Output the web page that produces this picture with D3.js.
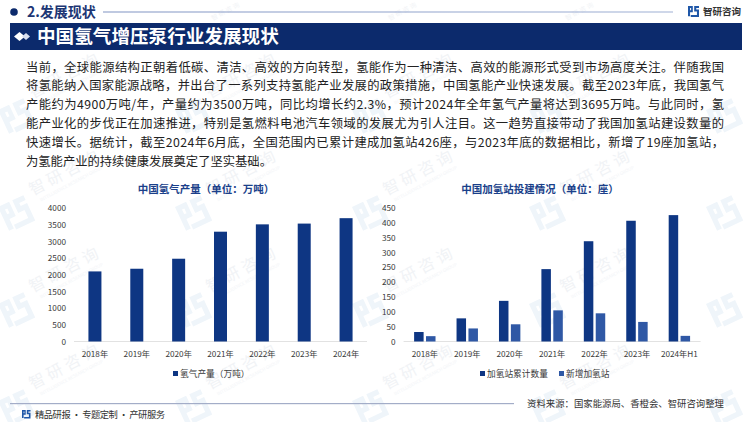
<!DOCTYPE html>
<html>
<head>
<meta charset="utf-8">
<script src="https://cdn.jsdelivr.net/npm/d3@7/dist/d3.min.js"></script>
<style>
	html, body { margin: 0; padding: 0; background: #fff; }
	svg { display: block; }
	text { font-family: "Noto Sans CJK SC", "Noto Sans", sans-serif; }
	.tick text { fill: #3a3a3a; font-size: 8.2px; }
</style>
</head>
<body>
<svg id="chart" width="750" height="422"></svg>
<script>
const pageLines = [
	'当前，全球能源结构正朝着低碳、清洁、高效的方向转型，氢能作为一种清洁、高效的能源形式受到市场高度关注。伴随我国',
	'将氢能纳入国家能源战略，并出台了一系列支持氢能产业发展的政策措施，中国氢能产业快速发展。截至2023年底，我国氢气',
	'产能约为4900万吨/年，产量约为3500万吨，同比均增长约2.3%，预计2024年全年氢气产量将达到3695万吨。与此同时，氢',
	'能产业化的步伐正在加速推进，特别是氢燃料电池汽车领域的发展尤为引人注目。这一趋势直接带动了我国加氢站建设数量的',
	'快速增长。据统计，截至2024年6月底，全国范围内已累计建成加氢站426座，与2023年底的数据相比，新增了19座加氢站，',
	'为氢能产业的持续健康发展奠定了坚实基础。'
]

const outputYears = ['2018年', '2019年', '2020年', '2021年', '2022年', '2023年', '2024年']
const outputValues = [2100, 2180, 2480, 3290, 3510, 3533, 3695]
const outputTicks = [0, 500, 1000, 1500, 2000, 2500, 3000, 3500, 4000]

const stationYears = ['2018年', '2019年', '2020年', '2021年', '2022年', '2023年', '2024年H1']
const stationTotal = [32, 78, 137, 244, 338, 407, 426]
const stationNew = [18, 44, 58, 105, 95, 66, 19]
const stationTicks = [0, 50, 100, 150, 200, 250, 300, 350, 400, 450]

const DARK = '#0e3683'
const MID = '#2f58a5'
const NAVY = '#0c2a6c'

const svg = d3.select('#chart')

// stylised brand mark, drawn in a 16x16 box
function logo (parent, x, y, size, color, angle) {
	const g = parent.append('g')
		.attr('transform', `translate(${x}, ${y}) rotate(${angle || 0}) scale(${size / 16})`)
		.attr('fill', color)
	g.append('path').attr('d', 'M0 0H7V9H3V15H0ZM3 3V6H4.5V3Z')
	g.append('path').attr('d', 'M9 0H16V3H12V5H16V16H4V13H13V8H9Z')
}

function watermarkText (g, x, y, size, withSub) {
	const t = g.append('g').attr('transform', `translate(${x}, ${y}) rotate(-28)`)
	t.append('text')
		.attr('text-anchor', 'middle')
		.attr('font-size', size)
		.attr('letter-spacing', size / 4)
		.attr('fill', '#f1f3f6')
		.text('智研咨询')
	if (!withSub) return
	t.append('text')
		.attr('text-anchor', 'middle')
		.attr('y', 9)
		.attr('font-size', 4.5)
		.attr('fill', '#f3f5f8')
		.text('INTELLIGENCE RESEARCH GROUP')
}

function watermarks () {
	const g = svg.append('g')
	d3.range(0, 4).forEach(row => {
		d3.range(0, 5).forEach(col => {
			const x = 68 + col * 177
			const y = 80 + row * 97
			logo(g, x - 70, y + 30, 28, '#eff5fa', -25)
			if (col < 4) watermarkText(g, x, y, 16, true)
		})
	})
	// the strip above the banner only has room for a smaller one
	d3.range(1, 4).forEach(col => watermarkText(g, 50 + col * 177, 13, 6.5, false))
}

function pageFrame () {
	const grad = svg.append('defs').append('linearGradient').attr('id', 'rule')
	grad.append('stop').attr('offset', '0%').attr('stop-color', '#7f93c2')
	grad.append('stop').attr('offset', '100%').attr('stop-color', '#9fb0d4')

	svg.append('circle').attr('cx', 14).attr('cy', 12).attr('r', 3.8).attr('fill', NAVY)
	svg.append('text')
		.attr('x', 27).attr('y', 17)
		.attr('font-size', 14).attr('font-weight', 700).attr('fill', '#1c3674')
		.text('2.发展现状')
	svg.append('rect').attr('x', 103).attr('y', 11.5).attr('width', 570).attr('height', 1).attr('fill', 'url(#rule)')

	logo(svg, 688, 6, 11, '#1f57a8')
	svg.append('text')
		.attr('x', 703).attr('y', 15)
		.attr('font-size', 9.5).attr('font-weight', 700).attr('fill', '#333')
		.text('智研咨询')

	svg.append('rect').attr('x', 10).attr('y', 23).attr('width', 732).attr('height', 27).attr('fill', NAVY)
	svg.append('path').attr('d', 'M14 36.5L19.5 32L25 36.5L19.5 41Z').attr('fill', '#fff')
	svg.append('path').attr('d', 'M22 36.5L26 33L30 36.5L26 40Z').attr('fill', '#d9dfee')
	svg.append('text')
		.attr('x', 37).attr('y', 43)
		.attr('font-size', 18.6).attr('font-weight', 700).attr('fill', '#fff')
		.text('中国氢气增压泵行业发展现状')

	svg.append('g').selectAll('text')
		.data(pageLines)
		.join('text')
		.attr('x', 26)
		.attr('y', (d, i) => 71.5 + i * 18.8)
		.attr('font-size', 12.3)
		.attr('fill', '#222')
		.attr('textLength', (d, i) => i < 5 ? 698 : null)
		.attr('lengthAdjust', 'spacing')
		.text(d => d)

	svg.append('rect').attr('x', 10).attr('y', 403).attr('width', 504).attr('height', 1.2).attr('fill', '#a3adc8')
	logo(svg, 22, 410, 8.5, '#1f57a8')
	svg.append('text')
		.attr('x', 35).attr('y', 418)
		.attr('font-size', 9.3).attr('fill', '#333')
		.attr('textLength', 130)
		.text('精品研报 · 专题定制 · 产研服务')
	svg.append('text')
		.attr('x', 527).attr('y', 407)
		.attr('font-size', 9.4).attr('fill', '#333')
		.text('资料来源：国家能源局、香橙会、智研咨询整理')
}

function axes (x, y, ticks, left, right) {
	svg.append('g')
		.attr('transform', `translate(${left - 8}, 0)`)
		.call(d3.axisLeft(y).tickValues(ticks).tickSize(0).tickPadding(0).tickFormat(d3.format('d')))
		.call(g => g.select('.domain').remove())
	svg.append('g')
		.attr('transform', `translate(0, ${y(0)})`)
		.call(d3.axisBottom(x).tickSize(0).tickPadding(10))
		.call(g => g.select('.domain').remove())
	svg.append('line')
		.attr('x1', left).attr('x2', right)
		.attr('y1', y(0)).attr('y2', y(0))
		.attr('stroke', '#e2e2e2')
}

function chartTitle (label, cx) {
	svg.append('text')
		.attr('x', cx).attr('y', 193)
		.attr('text-anchor', 'middle')
		.attr('font-size', 10.5).attr('font-weight', 700).attr('fill', '#1a3f8a')
		.text(label)
}

function legendItem (label, color, x) {
	svg.append('rect').attr('x', x).attr('y', 371).attr('width', 5).attr('height', 5).attr('fill', color)
	svg.append('text')
		.attr('x', x + 7).attr('y', 377)
		.attr('font-size', 8.7).attr('fill', '#3a3a3a')
		.text(label)
}

function outputChart () {
	const x = d3.scaleBand().domain(outputYears).range([74, 367])
	const y = d3.scaleLinear().domain([0, 4000]).range([341.5, 208])
	const w = 13

	chartTitle('中国氢气产量（单位：万吨）', 206)
	axes(x, y, outputTicks, 74, 367)
	svg.append('g').selectAll('rect')
		.data(outputValues)
		.join('rect')
		.attr('x', (d, i) => x(outputYears[i]) + x.bandwidth() / 2 - w / 2)
		.attr('y', d => y(d))
		.attr('width', w)
		.attr('height', d => y(0) - y(d))
		.attr('fill', DARK)
	legendItem('氢气产量（万吨）', DARK, 173)
}

function stationChart () {
	const x = d3.scaleBand().domain(stationYears).range([403.6, 700.6])
	const y = d3.scaleLinear().domain([0, 450]).range([341.5, 208])
	const w = 9.5
	const gap = 2.4

	chartTitle('中国加氢站投建情况（单位：座）', 540)
	axes(x, y, stationTicks, 403.6, 700.6)
	const bars = (values, color, dx) => svg.append('g').selectAll('rect')
		.data(values)
		.join('rect')
		.attr('x', (d, i) => x(stationYears[i]) + x.bandwidth() / 2 + dx)
		.attr('y', d => y(d))
		.attr('width', w)
		.attr('height', d => y(0) - y(d))
		.attr('fill', color)
	bars(stationTotal, DARK, -w - gap / 2)
	bars(stationNew, MID, gap / 2)
	legendItem('加氢站累计数量', DARK, 480)
	legendItem('新增加氢站', MID, 559)
}

watermarks()
pageFrame()
outputChart()
stationChart()
</script>
</body>
</html>
